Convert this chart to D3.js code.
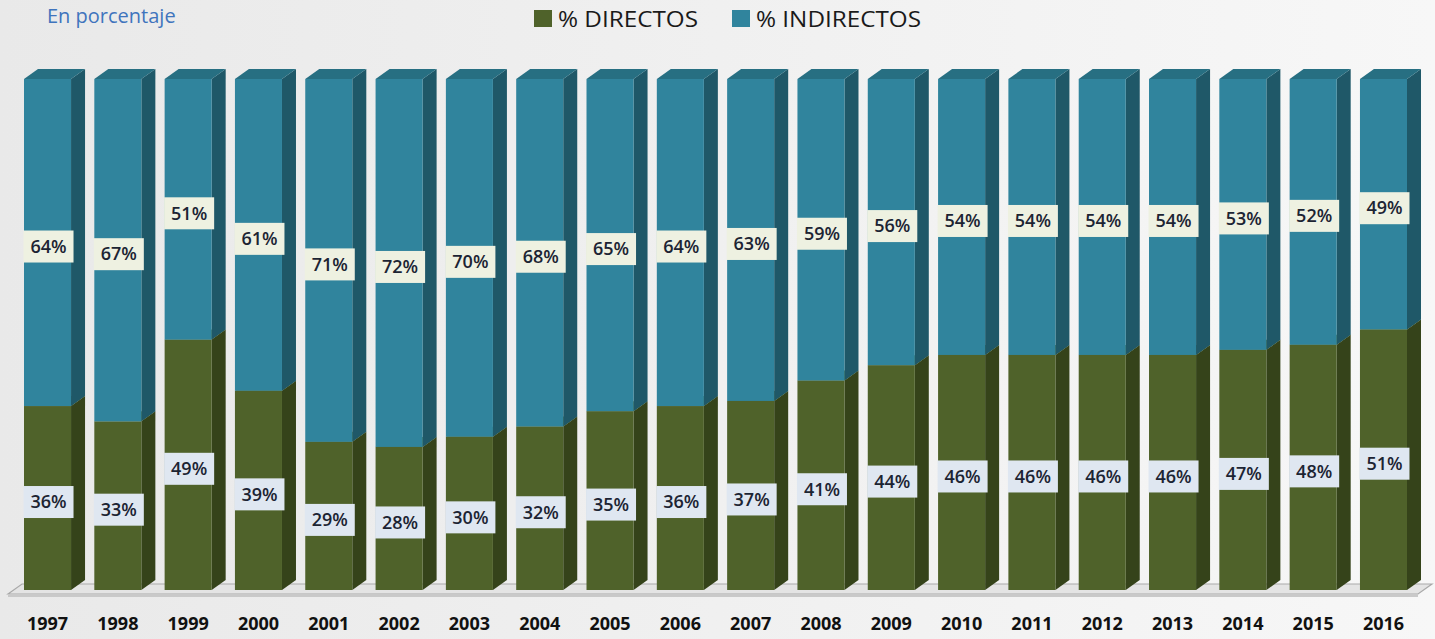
<!DOCTYPE html>
<html>
<head>
<meta charset="utf-8">
<script src="https://cdn.jsdelivr.net/npm/d3@7"></script>
<style>
  html, body { margin: 0; padding: 0; background: #f2f2f2; }
  svg { display: block; }
</style>
</head>
<body>
<div id="vizChart"></div>
<script>
// data
const years = ['1997', '1998', '1999', '2000', '2001', '2002', '2003', '2004', '2005', '2006',
  '2007', '2008', '2009', '2010', '2011', '2012', '2013', '2014', '2015', '2016'];
const directos = [36, 33, 49, 39, 29, 28, 30, 32, 35, 36, 37, 41, 44, 46, 46, 46, 46, 47, 48, 51];
const indirectos = [64, 67, 51, 61, 71, 72, 70, 68, 65, 64, 63, 59, 56, 54, 54, 54, 54, 53, 52, 49];
const seriesNames = ['% DIRECTOS', '% INDIRECTOS'];

const width = 1435;
const height = 639;
const depth = { dx: 14, dy: 10 };

const colors = {
  green: { front: '#4f622a', side: '#35431a', top: '#5d7233' },
  blue: { front: '#30849d', side: '#1f5868', top: '#276f82' },
  labelGreen: '#dfe7f1',
  labelBlue: '#eef1e1',
  text: '#1c2433',
  title: '#3f74bd'
};

const svg = d3.select('#vizChart')
  .append('svg')
  .attr('width', width)
  .attr('height', height);

// background
const defs = svg.append('defs');
const grad = defs.append('linearGradient')
  .attr('id', 'bg')
  .attr('x1', 0).attr('y1', 0).attr('x2', 1).attr('y2', 0);
grad.append('stop').attr('offset', '0%').attr('stop-color', '#e9e9e9');
grad.append('stop').attr('offset', '100%').attr('stop-color', '#f7f7f7');
svg.append('rect')
  .attr('width', width)
  .attr('height', height)
  .attr('fill', 'url(#bg)');

// scales
const x = d3.scaleBand()
  .domain(years)
  .range([24, 1407])
  .paddingInner(0.331)
  .paddingOuter(0);

const y = d3.scaleLinear()
  .domain([0, 100])
  .range([590, 79]);

const bw = x.bandwidth();

// title
svg.append('text')
  .attr('x', 47)
  .attr('y', 23)
  .attr('fill', colors.title)
  .style('font-family', '"Open Sans", sans-serif')
  .style('font-size', '20px')
  .text('En porcentaje');

// legend
const legend = svg.append('g').attr('class', 'legend');
const legendItems = [
  { name: seriesNames[0], color: colors.green.front, x: 534, len: 140 },
  { name: seriesNames[1], color: colors.blue.front, x: 732, len: 165 }
];
legendItems.forEach(item => {
  legend.append('rect')
    .attr('x', item.x)
    .attr('y', 10)
    .attr('width', 18)
    .attr('height', 17)
    .attr('fill', item.color);
  legend.append('text')
    .attr('x', item.x + 24)
    .attr('y', 27)
    .attr('fill', '#1a1a1a')
    .attr('textLength', item.len)
    .attr('lengthAdjust', 'spacingAndGlyphs')
    .style('font-family', '"Open Sans", sans-serif')
    .style('font-size', '21px')
    .text(item.name);
});

// floor
const floorLeft = 8, floorRight = 1418, floorFront = 594;
svg.append('path')
  .attr('d', `M${floorLeft},${floorFront} L${floorLeft + depth.dx},${floorFront - depth.dy}
    L${floorRight + depth.dx},${floorFront - depth.dy} L${floorRight},${floorFront} Z`)
  .attr('fill', '#e4e4e4')
  .attr('stroke', '#a9a9a9')
  .attr('stroke-width', 1.2);
svg.append('rect')
  .attr('x', floorLeft)
  .attr('y', floorFront)
  .attr('width', floorRight - floorLeft)
  .attr('height', 3)
  .attr('fill', '#c9c9c9');

// bars
const data = years.map((yr, i) => ({ year: yr, dir: directos[i], ind: indirectos[i] }));

const bars = svg.append('g').attr('class', 'bars')
  .selectAll('g')
  .data(data)
  .enter()
  .append('g');

function sidePath(x0, yTop, yBot) {
  const x1 = x0 + bw;
  return `M${x1},${yBot} L${x1},${yTop} L${x1 + depth.dx},${yTop - depth.dy} L${x1 + depth.dx},${yBot - depth.dy} Z`;
}
function topPath(x0, yTop) {
  return `M${x0},${yTop} L${x0 + depth.dx},${yTop - depth.dy} L${x0 + bw + depth.dx},${yTop - depth.dy} L${x0 + bw},${yTop} Z`;
}

// green segment
bars.append('path')
  .attr('d', d => sidePath(x(d.year), y(d.dir), y(0)))
  .attr('fill', colors.green.side);
bars.append('path')
  .attr('d', d => topPath(x(d.year), y(d.dir)))
  .attr('fill', colors.green.top);
bars.append('rect')
  .attr('x', d => x(d.year))
  .attr('y', d => y(d.dir))
  .attr('width', bw)
  .attr('height', d => y(0) - y(d.dir))
  .attr('fill', colors.green.front);

// blue segment
bars.append('path')
  .attr('d', d => sidePath(x(d.year), y(d.dir + d.ind), y(d.dir)))
  .attr('fill', colors.blue.side);
bars.append('path')
  .attr('d', d => topPath(x(d.year), y(d.dir + d.ind)))
  .attr('fill', colors.blue.top);
bars.append('rect')
  .attr('x', d => x(d.year))
  .attr('y', d => y(d.dir + d.ind))
  .attr('width', bw)
  .attr('height', d => y(d.dir) - y(d.dir + d.ind))
  .attr('fill', colors.blue.front);

// value labels
const boxW = 50, boxH = 32;
function addLabel(sel, getMid, fill, getText) {
  sel.append('rect')
    .attr('x', d => x(d.year) + bw / 2 - boxW / 2 + 1)
    .attr('y', d => getMid(d) + 4 - boxH / 2)
    .attr('width', boxW)
    .attr('height', boxH)
    .attr('fill', fill);
  sel.append('text')
    .attr('x', d => x(d.year) + bw / 2 + 1)
    .attr('y', d => getMid(d) + 4)
    .attr('dy', '0.35em')
    .attr('text-anchor', 'middle')
    .attr('fill', colors.text)
    .style('font-family', '"Open Sans", sans-serif')
    .style('font-size', '18px')
    .style('font-weight', 600)
    .text(getText);
}
addLabel(bars, d => (y(0) + y(d.dir)) / 2, colors.labelGreen, d => d.dir + '%');
addLabel(bars, d => (y(d.dir) + y(d.dir + d.ind)) / 2, colors.labelBlue, d => d.ind + '%');

// x axis labels
svg.append('g')
  .attr('class', 'xaxis')
  .attr('transform', 'translate(0,611)')
  .call(d3.axisBottom(x).tickSize(0).tickPadding(6))
  .call(g => g.select('.domain').remove())
  .selectAll('text')
  .attr('fill', '#111')
  .style('font-family', '"Open Sans", sans-serif')
  .style('font-size', '18px')
  .style('font-weight', 700);
</script>
</body>
</html>
